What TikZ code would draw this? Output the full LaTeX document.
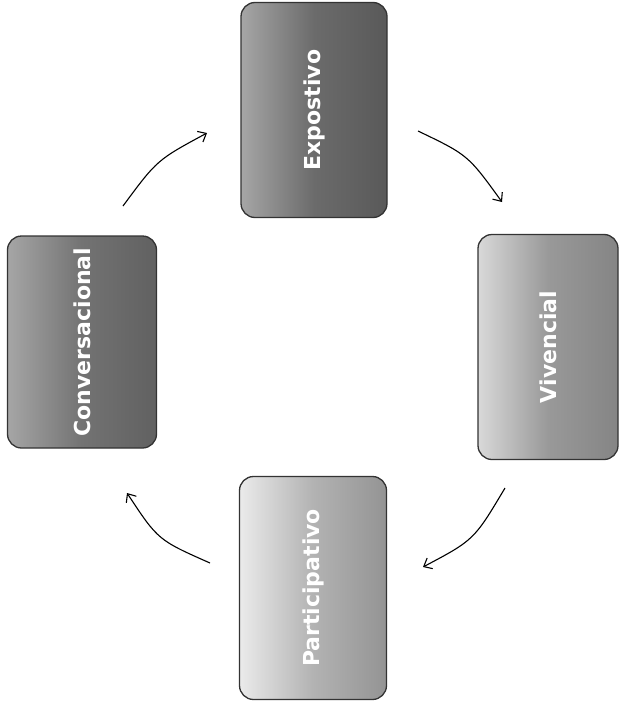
\documentclass[tikz,border=0pt]{standalone}
\usepackage{fontspec}
\setmainfont{DejaVu Sans}
\usetikzlibrary{arrows.meta}
\tikzset{
  card/.style={rotate=90, draw=black!80, line width=1.3pt, rounded corners=14pt,
    font=\bfseries\fontsize{22}{26}\selectfont, text=white, inner sep=0pt},
  flow/.style={line width=1.1pt, -{Straight Barb[length=7pt,width=12pt,line width=1.1pt]}}
}
\begin{document}
\begin{tikzpicture}[x=1pt,y=-1pt]
\useasboundingbox (0,0) rectangle (620,709);
\node[card, minimum width=215pt, minimum height=146pt, left color=black!35, right color=black!65, middle color=black!58] (expo) at (314,110) {Expostivo};
\node[card, minimum width=212pt, minimum height=149pt, left color=black!35, right color=black!62, middle color=black!55] (conv) at (82,342) {Conversacional};
\node[card, minimum width=225pt, minimum height=140pt, left color=black!15, right color=black!48, middle color=black!40] (vive) at (548,347) {Vivencial};
\node[card, minimum width=223pt, minimum height=147pt, left color=black!8, right color=black!42, middle color=black!30] (part) at (313,588) {Participativo};
\coordinate (a1s) at (123,206); \coordinate (a1e) at (207,133);
\coordinate (a2s) at (418,131); \coordinate (a2e) at (502,202);
\coordinate (a3s) at (505,488); \coordinate (a3e) at (423,567);
\coordinate (a4s) at (210,563); \coordinate (a4e) at (127,493);
\draw[flow] (a1s) .. controls (157,160) .. (a1e);
\draw[flow] (a2s) .. controls (468,155) .. (a2e);
\draw[flow] (a3s) .. controls (474,540) .. (a3e);
\draw[flow] (a4s) .. controls (158,540) .. (a4e);
\end{tikzpicture}
\end{document}
